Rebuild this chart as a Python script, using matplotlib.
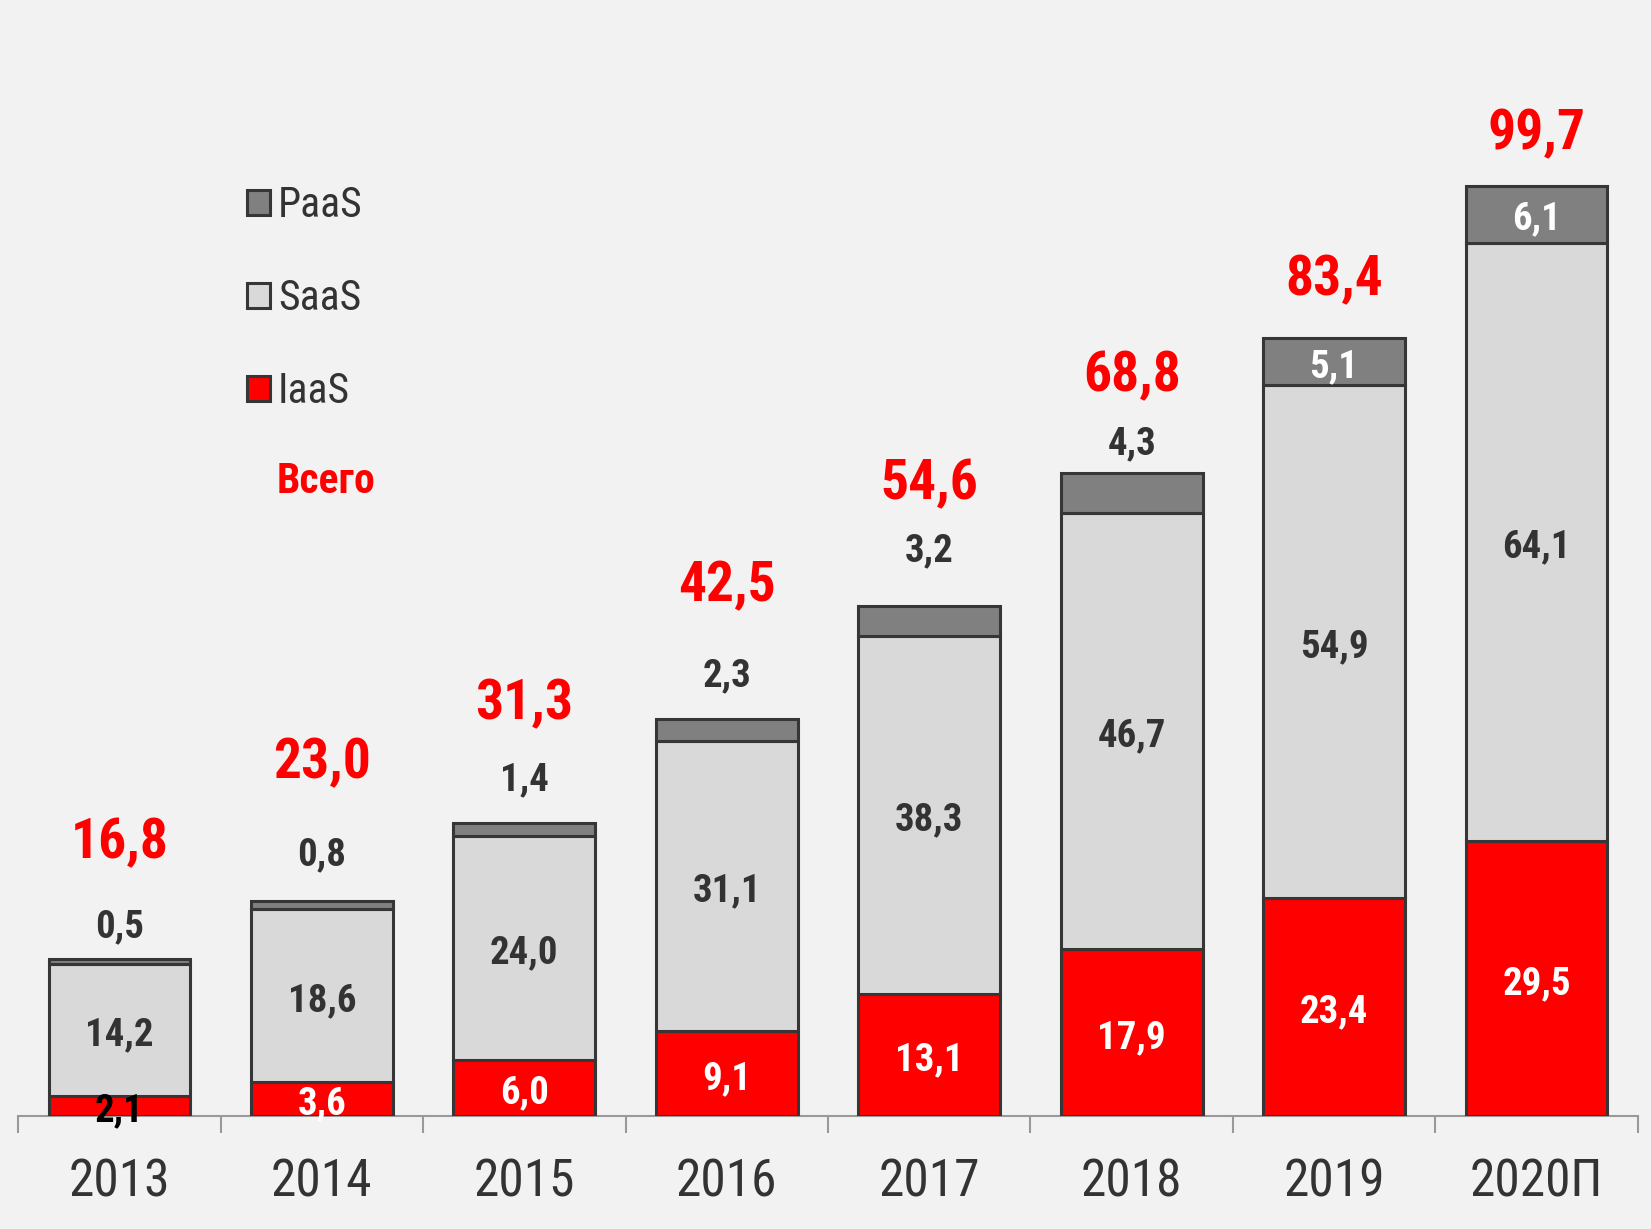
import matplotlib
matplotlib.use("Agg")
import matplotlib.pyplot as plt
from matplotlib.patches import Patch
import numpy as np

years = ["2013", "2014", "2015", "2016", "2017", "2018", "2019", "2020П"]
iaas = [2.1, 3.6, 6.0, 9.1, 13.1, 17.9, 23.4, 29.5]
saas = [14.2, 18.6, 24.0, 31.1, 38.3, 46.7, 54.9, 64.1]
paas = [0.5, 0.8, 1.4, 2.3, 3.2, 4.3, 5.1, 6.1]
totals = [16.8, 23.0, 31.3, 42.5, 54.6, 68.8, 83.4, 99.7]

# label offsets above bar top, in pixels
paas_off = [32, 47, 43, 44, 56, 29]
total_off = [116, 138, 119, 133, 122, 97, 57, 51]

plt.rcParams["font.family"] = ["Roboto Condensed", "DejaVu Sans"]

bg = "#f2f2f2"
red = "#ff0000"
light = "#d9d9d9"
dark = "#808080"
edge = "#363636"
txt = "#333333"

fig = plt.figure(figsize=(16.51, 12.29), dpi=100, facecolor=bg)
ax = fig.add_axes([0.011, 0.092, 0.981, 0.908])
ax.set_facecolor(bg)

x = np.arange(len(years))
w = 0.70
ax.bar(x, iaas, w, color=red, edgecolor=edge, linewidth=2.2, zorder=3)
ax.bar(x, saas, w, bottom=iaas, color=light, edgecolor=edge, linewidth=2.2, zorder=3)
bot3 = np.array(iaas) + np.array(saas)
ax.bar(x, paas, w, bottom=bot3, color=dark, edgecolor=edge, linewidth=2.2, zorder=3)

ax.set_xlim(-0.5, 7.5)
ax.set_ylim(0, 119.6)

def fmt(v):
    return f"{v:.1f}".replace(".", ",")

def label(s, xy, dy, size, color):
    ax.annotate(s, xy, xytext=(0, dy), textcoords="offset pixels",
                ha="center", va="center", fontsize=size, fontweight="bold",
                color=color, zorder=5)

for i in range(len(years)):
    c = "black" if i == 0 else "white"
    label(fmt(iaas[i]), (x[i], iaas[i] / 2), -5, 28, c)
    label(fmt(saas[i]), (x[i], iaas[i] + saas[i] / 2), -5, 28, txt)
    top = bot3[i] + paas[i]
    if i < len(paas_off):
        label(fmt(paas[i]), (x[i], top), paas_off[i], 28, txt)
    else:
        label(fmt(paas[i]), (x[i], bot3[i] + paas[i] / 2), -5, 28, "white")
    label(fmt(totals[i]), (x[i], top), total_off[i], 40, red)

for s in ["top", "right", "left"]:
    ax.spines[s].set_visible(False)
ax.spines["bottom"].set_color("#999999")
ax.spines["bottom"].set_linewidth(1.5)
ax.set_yticks([])
ax.set_xticks(x)
ax.set_xticklabels(years, fontsize=37, color=txt)
ax.tick_params(axis="x", which="major", length=0, pad=30)
ax.set_xticks(np.arange(-0.5, 8, 1), minor=True)
ax.tick_params(axis="x", which="minor", length=12, width=1.5, color="#999999")

handles = [Patch(facecolor=dark, edgecolor=edge, linewidth=2.2),
           Patch(facecolor=light, edgecolor=edge, linewidth=2.2),
           Patch(facecolor=red, edgecolor=edge, linewidth=2.2)]
leg = ax.legend(handles, ["PaaS", "SaaS", "IaaS"], loc="upper left",
                bbox_to_anchor=(0.118, 0.868), frameon=False, fontsize=30,
                handlelength=0.55, handleheight=0.55, handletextpad=0.2,
                labelspacing=1.25)
for t in leg.get_texts():
    t.set_color(txt)
fig.text(0.1976, 0.608, "Всего", fontsize=30, fontweight="bold", color=red,
         ha="center", va="center")

fig.savefig("out.png", dpi=100, facecolor=bg)
